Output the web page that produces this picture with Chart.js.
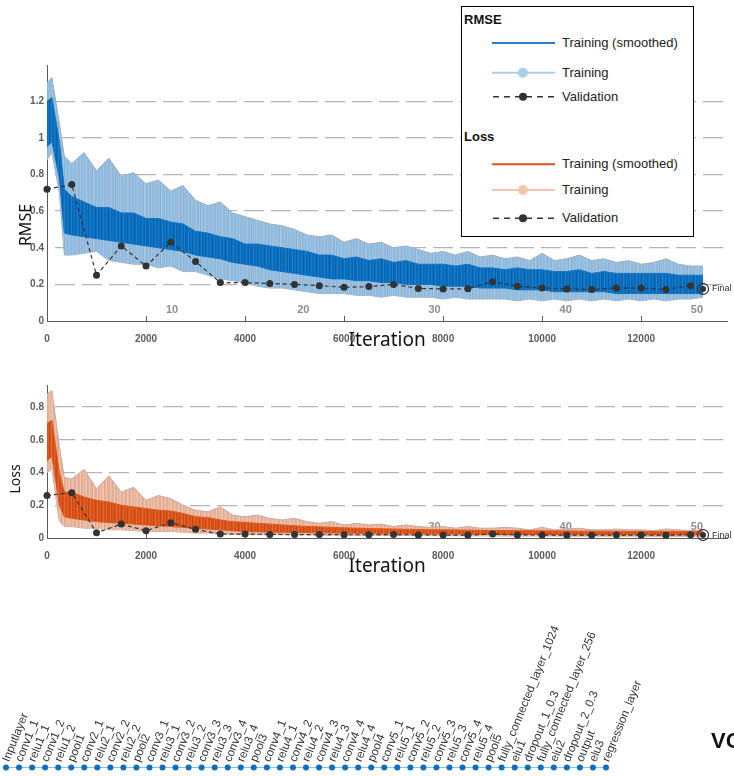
<!DOCTYPE html>
<html>
<head>
<meta charset="utf-8">
<script src="https://cdn.jsdelivr.net/npm/chart.js@4.4.1/dist/chart.umd.min.js"></script>
<style>
  html, body { margin:0; padding:0; }
  body { width:734px; height:776px; overflow:hidden; background:#fff; position:relative; font-family:"Liberation Sans", Arial, sans-serif; }
  canvas { position:absolute; left:0; }
  .yt { position:absolute; transform:translate(-50%,-50%) rotate(-90deg); font-family:"Noto Sans", sans-serif; color:#111; white-space:nowrap; line-height:1; }
  #legend { position:absolute; left:461px; top:6px; width:233px; height:231px; box-sizing:border-box; border:1px solid #000; background:#fff; z-index:5; }
  #legend .lt { position:absolute; left:100px; font-size:13px; line-height:16px; color:#222; white-space:nowrap; }
  #legend .hd { position:absolute; left:2px; font-size:13px; line-height:16px; font-weight:bold; color:#111; }
  #vgg { position:absolute; left:711px; top:728px; font-size:22px; font-weight:bold; color:#111; white-space:nowrap; }
</style>
</head>
<body>
<canvas id="c1" width="734" height="360" style="top:0"></canvas>
<canvas id="c2" width="734" height="210" style="top:370px"></canvas>
<canvas id="c3" width="734" height="176" style="top:600px"></canvas>

<div class="yt" style="left:25px;top:225px;font-size:16px">RMSE</div>
<div class="yt" style="left:15px;top:479px;font-size:14px">Loss</div>

<div id="legend">
  <svg width="231" height="229" style="position:absolute;left:0;top:0">
    <line x1="30" y1="36" x2="93" y2="36" stroke="#2a7cc4" stroke-width="2"/>
    <line x1="30" y1="65.7" x2="93" y2="65.7" stroke="#a9cfea" stroke-width="2"/>
    <circle cx="61" cy="65.7" r="5" fill="#a9cfea"/>
    <line x1="31" y1="89.7" x2="94" y2="89.7" stroke="#333" stroke-width="1.6" stroke-dasharray="6 5"/>
    <circle cx="61" cy="89.7" r="4" fill="#333"/>
    <line x1="30" y1="157.3" x2="93" y2="157.3" stroke="#d9541a" stroke-width="2"/>
    <line x1="30" y1="183" x2="93" y2="183" stroke="#f3c4ae" stroke-width="2"/>
    <circle cx="61" cy="183" r="5" fill="#f3c4ae"/>
    <line x1="31" y1="211.3" x2="94" y2="211.3" stroke="#333" stroke-width="1.6" stroke-dasharray="6 5"/>
    <circle cx="61" cy="211.3" r="4" fill="#333"/>
  </svg>
  <div class="hd" style="top:5px">RMSE</div>
  <div class="lt" style="top:28px">Training (smoothed)</div>
  <div class="lt" style="top:57.7px">Training</div>
  <div class="lt" style="top:81.7px">Validation</div>
  <div class="hd" style="top:121.7px">Loss</div>
  <div class="lt" style="top:149.3px">Training (smoothed)</div>
  <div class="lt" style="top:175px">Training</div>
  <div class="lt" style="top:203.3px">Validation</div>
</div>

<div id="vgg">VGG19</div>

<script>
// ---------------- data ----------------
const trainIter = [0,100,250,350,500,750,1000,1250,1500,1750,2000,2250,2500,2750,3000,3250,3500,3750,
  4000,4250,4500,4750,5000,5250,5500,5750,6000,6250,6500,6750,7000,7250,7500,7750,
  8000,8250,8500,8750,9000,9250,9500,9750,10000,10250,10500,10750,11000,11250,11500,11750,
  12000,12250,12500,12750,13000,13250];
const xTickValues = [0,2000,4000,6000,8000,10000,12000];

// RMSE - raw training band (upper / lower envelope) and smoothed core band
const rmseRawHi = [1.30,1.33,1.08,0.90,0.86,0.92,0.82,0.89,0.79,0.81,0.75,0.77,0.71,0.74,0.66,0.63,0.65,0.59,
  0.57,0.55,0.53,0.52,0.50,0.47,0.46,0.47,0.43,0.45,0.42,0.43,0.40,0.41,0.39,0.37,
  0.38,0.36,0.38,0.35,0.36,0.34,0.35,0.33,0.37,0.33,0.34,0.36,0.33,0.34,0.32,0.33,
  0.31,0.32,0.34,0.31,0.30,0.30];
const rmseRawLo = [0.88,0.92,0.70,0.36,0.36,0.37,0.38,0.33,0.32,0.31,0.31,0.29,0.30,0.27,0.27,0.25,0.23,0.22,
  0.21,0.19,0.18,0.18,0.17,0.16,0.15,0.15,0.15,0.14,0.14,0.13,0.14,0.13,0.13,0.13,
  0.12,0.13,0.12,0.12,0.12,0.12,0.11,0.12,0.11,0.12,0.11,0.12,0.11,0.12,0.11,0.12,
  0.11,0.12,0.11,0.12,0.12,0.13];
const rmseSmoothHi = [1.20,1.22,0.98,0.72,0.68,0.65,0.62,0.62,0.59,0.59,0.56,0.56,0.54,0.53,0.49,0.48,0.46,0.45,
  0.42,0.42,0.41,0.40,0.39,0.38,0.36,0.36,0.34,0.35,0.33,0.34,0.32,0.33,0.31,0.31,
  0.31,0.30,0.31,0.29,0.29,0.28,0.29,0.28,0.28,0.27,0.27,0.28,0.26,0.27,0.26,0.26,
  0.26,0.26,0.26,0.25,0.25,0.25];
const rmseSmoothLo = [0.95,0.98,0.78,0.48,0.47,0.46,0.45,0.44,0.43,0.42,0.41,0.40,0.39,0.38,0.36,0.35,0.34,0.32,
  0.31,0.30,0.28,0.27,0.26,0.25,0.24,0.23,0.23,0.22,0.22,0.21,0.21,0.20,0.20,0.20,
  0.19,0.19,0.19,0.18,0.18,0.18,0.17,0.17,0.17,0.16,0.16,0.16,0.16,0.16,0.15,0.15,
  0.15,0.15,0.15,0.15,0.15,0.15];

// Loss
const lossRawHi = [0.88,0.90,0.56,0.37,0.36,0.42,0.30,0.38,0.28,0.31,0.23,0.26,0.24,0.20,0.17,0.16,0.19,0.14,
  0.13,0.14,0.12,0.11,0.12,0.10,0.09,0.10,0.08,0.09,0.08,0.085,0.07,0.08,0.07,0.065,
  0.07,0.06,0.07,0.06,0.06,0.065,0.06,0.05,0.065,0.05,0.055,0.06,0.05,0.05,0.055,0.05,
  0.05,0.045,0.055,0.05,0.045,0.05];
const lossRawLo = [0.40,0.42,0.10,0.07,0.07,0.06,0.06,0.05,0.05,0.045,0.04,0.04,0.04,0.035,0.03,0.03,0.025,0.025,
  0.02,0.02,0.02,0.02,0.02,0.02,0.018,0.018,0.018,0.016,0.016,0.016,0.015,0.015,0.015,0.014,
  0.014,0.014,0.013,0.013,0.013,0.012,0.012,0.012,0.012,0.012,0.011,0.011,0.011,0.011,0.011,0.011,
  0.01,0.01,0.01,0.01,0.01,0.01];
const lossSmoothHi = [0.70,0.72,0.40,0.28,0.28,0.25,0.23,0.22,0.20,0.19,0.18,0.17,0.165,0.15,0.13,0.125,0.11,0.10,
  0.095,0.09,0.085,0.08,0.075,0.07,0.068,0.065,0.062,0.06,0.058,0.056,0.055,0.053,0.052,0.05,
  0.05,0.049,0.048,0.047,0.046,0.045,0.045,0.044,0.044,0.043,0.043,0.042,0.042,0.041,0.041,0.04,
  0.04,0.04,0.04,0.039,0.039,0.039];
const lossSmoothLo = [0.47,0.50,0.20,0.13,0.12,0.11,0.10,0.095,0.09,0.085,0.08,0.075,0.07,0.065,0.06,0.055,0.05,0.045,
  0.04,0.038,0.036,0.035,0.034,0.033,0.032,0.031,0.03,0.029,0.028,0.028,0.027,0.026,0.026,0.025,
  0.025,0.024,0.024,0.023,0.023,0.022,0.022,0.022,0.021,0.021,0.021,0.02,0.02,0.02,0.02,0.02,
  0.02,0.019,0.019,0.019,0.019,0.019];

// Validation (every 500 iterations) and final point
const valIter = [0,500,1000,1500,2000,2500,3000,3500,4000,4500,5000,5500,6000,6500,7000,7500,
  8000,8500,9000,9500,10000,10500,11000,11500,12000,12500,13000];
const rmseVal = [0.72,0.745,0.25,0.41,0.30,0.43,0.325,0.21,0.21,0.205,0.20,0.193,0.184,0.188,0.20,0.178,
  0.175,0.176,0.215,0.19,0.18,0.175,0.172,0.18,0.18,0.172,0.193];
const lossVal = [0.26,0.277,0.032,0.085,0.045,0.093,0.053,0.024,0.024,0.022,0.021,0.021,0.02,0.02,0.021,0.019,
  0.018,0.018,0.024,0.019,0.018,0.017,0.017,0.018,0.018,0.017,0.02];
const finalIter = 13250;
const rmseFinal = 0.175;
const lossFinal = 0.018;

// Epoch markers
const epochLabels = ['10','20','30','40','50'];
const epochIters = [2650,5300,7950,10600,13250];

// Network layers
const layerNames = ['Inputlayer','conv1_1','relu1_1','conv1_2','relu1_2','pool1',
  'conv2_1','relu2_1','conv2_2','relu2_2','pool2',
  'conv3_1','relu3_1','conv3_2','relu3_2','conv3_3','relu3_3','conv3_4','relu3_4','pool3',
  'conv4_1','relu4_1','conv4_2','relu4_2','conv4_3','relu4_3','conv4_4','relu4_4','pool4',
  'conv5_1','relu5_1','conv5_2','relu5_2','conv5_3','relu5_3','conv5_4','relu5_4','pool5',
  'fully_connected_layer_1024','elu1','dropout_1_0.3','fully_connected_layer_256','elu2',
  'dropout_2_0.3','output','elu3','regression_layer'];
const layerLevel = [0,0,0,0,0,0,0,0,0,0,0,0,0,0,0,0,0,0,0,0,0,0,0,0,0,0,0,0,0,0,0,0,0,0,0,0,0,0,0,0,0,0,0,0,0,0,0];

// ---------------- drawing ----------------
Chart.defaults.font.family = '"Liberation Sans", Arial, sans-serif';
Chart.defaults.animation = false;

const pts = (xs, ys) => xs.map((x, i) => ({x: x, y: ys[i]}));

// streaky fill texture (style only)
function stripes(colors) {
  const c = document.createElement('canvas');
  c.width = colors.length; c.height = 1;
  const g = c.getContext('2d');
  colors.forEach((col, i) => { g.fillStyle = col; g.fillRect(i, 0, 1, 1); });
  return g.createPattern(c, 'repeat');
}

const extras = {
  id: 'extras',
  beforeDatasetsDraw(chart, args, opts) {
    const {ctx, scales: {x, y}} = chart;
    ctx.save();
    ctx.font = 'bold 11px "Liberation Sans", Arial';
    ctx.fillStyle = '#8e8e8e';
    ctx.textAlign = 'right';
    ctx.textBaseline = 'middle';
    epochLabels.forEach((t, i) => ctx.fillText(t, x.getPixelForValue(epochIters[i]), y.bottom - 11));
    ctx.strokeStyle = '#5a5a5a';
    ctx.lineWidth = 1;
    x.ticks.forEach(t => {
      const px = Math.round(x.getPixelForValue(t.value)) + 0.5;
      ctx.beginPath(); ctx.moveTo(px, y.bottom); ctx.lineTo(px, y.bottom - 5); ctx.stroke();
    });
    ctx.restore();
  },
  afterDraw(chart, args, opts) {
    const {ctx, scales: {x, y}} = chart;
    ctx.save();
    ctx.font = '9px "Liberation Sans", Arial';
    ctx.fillStyle = '#333';
    ctx.textAlign = 'left';
    ctx.textBaseline = 'middle';
    ctx.fillText('Final', x.getPixelForValue(finalIter) + 9, y.getPixelForValue(opts.finalValue));
    ctx.restore();
  }
};

function trainingChart(id, c) {
  return new Chart(document.getElementById(id), {
    type: 'line',
    data: { datasets: [
      {data: pts(trainIter, c.rawLo), borderColor: c.rawEdge, borderWidth: 1, pointRadius: 0, fill: false, order: 4},
      {data: pts(trainIter, c.rawHi), borderColor: c.rawEdge, borderWidth: 1, backgroundColor: c.rawFill, pointRadius: 0, fill: '-1', order: 3},
      {data: pts(trainIter, c.smLo), borderColor: c.coreEdge, borderWidth: 1, pointRadius: 0, fill: false, order: 2},
      {data: pts(trainIter, c.smHi), borderColor: c.coreEdge, borderWidth: 1, backgroundColor: c.core, pointRadius: 0, fill: '-1', order: 1},
      {data: pts(valIter, c.val), borderColor: '#333', borderWidth: 1.2, borderDash: [4, 3], pointRadius: 3.5,
        pointBackgroundColor: '#333', pointBorderWidth: 0, fill: false, clip: false, order: 0},
      {data: [{x: finalIter, y: c.final}], showLine: false, pointRadius: 5.5, pointBorderColor: '#333',
        pointBorderWidth: 1.2, pointBackgroundColor: 'rgba(0,0,0,0)', clip: false, order: 0},
      {data: [{x: finalIter, y: c.final}], showLine: false, pointRadius: 3, pointBackgroundColor: '#333',
        pointBorderWidth: 0, clip: false, order: 0}
    ]},
    options: {
      responsive: false, animation: false, devicePixelRatio: 1,
      layout: { padding: c.padding },
      plugins: { legend: {display: false}, tooltip: {enabled: false}, extras: {finalValue: c.final} },
      scales: {
        x: {
          type: 'linear', min: 0, max: 13740,
          afterBuildTicks: s => { s.ticks = xTickValues.map(v => ({value: v})); },
          ticks: { autoSkip: false, maxRotation: 0, padding: 4,
                   color: '#5c5c5c', font: {size: 10, weight: 'bold'}, callback: v => String(v) },
          grid: { display: false },
          border: { display: true, color: '#5a5a5a', width: 1 },
          title: { display: true, text: 'Iteration', color: '#111',
                   font: {family: '"Noto Sans", sans-serif', size: 19}, padding: {top: 0, bottom: 0} },
          afterFit: s => { s.height = c.xh; }
        },
        y: {
          min: 0, max: c.yMax,
          ticks: { stepSize: 0.2, includeBounds: false, padding: 3, color: '#5c5c5c',
                   font: {size: 10, weight: 'bold'}, callback: v => String(+v.toFixed(1)) },
          grid: { color: ctx => (ctx.tick && ctx.tick.value === 0) ? 'rgba(0,0,0,0)' : '#b4b4b4',
                  lineWidth: 1.3, drawTicks: false },
          border: { display: true, color: '#5a5a5a', width: 1, dash: [20, 7], dashOffset: 20 },
          afterFit: s => { s.width = 47; }
        }
      }
    },
    plugins: [extras]
  });
}

trainingChart('c1', {
  rawLo: rmseRawLo, rawHi: rmseRawHi, smLo: rmseSmoothLo, smHi: rmseSmoothHi, val: rmseVal, final: rmseFinal,
  rawEdge: '#9fb0c0',
  rawFill: stripes(['#8dbfe6','#9ec8ea','#a9b6c2','#87bae4','#95c3e8','#8cbde5','#b0bcc6','#7fb4e0','#a0c9ea',
                    '#92c1e7','#a5b3c0','#89bbe4','#9bc6ea','#84b8e2','#aab8c4','#94c2e7','#8abce4']),
  core: stripes(['#0a6fbe','#0767b7','#1979c4','#0a6fbe','#0562b2','#0a6cbc','#2080c7','#0868b8','#0a6fbe',
                 '#1575c2','#0462b2','#0b70bf','#1b7bc5']),
  coreEdge: '#1474c0',
  yMax: 1.398, xh: 31, padding: {top: 65, right: 0, bottom: 8, left: 0}
});

trainingChart('c2', {
  rawLo: lossRawLo, rawHi: lossRawHi, smLo: lossSmoothLo, smHi: lossSmoothHi, val: lossVal, final: lossFinal,
  rawEdge: '#c9aaa0',
  rawFill: stripes(['#f2b89d','#f5c6b0','#c9b0a8','#efb293','#f3bfa6','#f0b497','#d1b5ab','#eba98a','#f4c4ad',
                    '#f1b69b','#cdb2a9','#eeae90','#f5c8b3','#eaa888','#d4b8ae','#f2ba9f','#efb194']),
  core: stripes(['#d9541a','#d24d15','#e0622a','#d9541a','#cc4810','#d75218','#e36a33','#d04b13','#d9541a',
                 '#de5d24','#c9460f','#da561c','#e4692f']),
  coreEdge: '#dc5a22',
  yMax: 0.935, xh: 40, padding: {top: 15, right: 0, bottom: 2, left: 0}
});

new Chart(document.getElementById('c3'), {
  type: 'line',
  data: { labels: layerNames, datasets: [{
    data: layerLevel, borderColor: '#8fbde3', borderWidth: 1, pointRadius: 3,
    pointBackgroundColor: '#0a6fbe', pointBorderWidth: 0, clip: false
  }]},
  options: {
    responsive: false, animation: false, devicePixelRatio: 1,
    layout: { padding: {left: 6, right: 128, top: 0, bottom: 1} },
    plugins: { legend: {display: false}, tooltip: {enabled: false} },
    scales: {
      x: {
        type: 'category', position: 'top', offset: false,
        grid: { display: false }, border: { display: false },
        ticks: { autoSkip: false, minRotation: 68, maxRotation: 68, padding: -9, labelOffset: 13,
                 color: '#333', font: {size: 11.7} },
        afterFit: s => { s.height = 163; s.paddingLeft = 0; s.paddingRight = 0; }
      },
      y: { display: false, min: -1, max: 1 }
    }
  }
});
</script>
</body>
</html>
